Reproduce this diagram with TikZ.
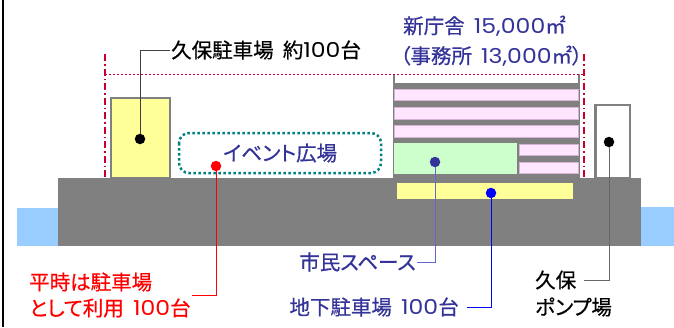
\documentclass[tikz,border=0pt]{standalone}
\usepackage{fontspec}
\setmainfont{Noto Sans CJK JP}[FakeBold=0.6, WordSpace=2, RawFeature=+palt]
\newfontfamily\cifras{Poppins}[FakeStretch=1.15]

\definecolor{azulosc}{RGB}{51,51,153}
\definecolor{azulmed}{RGB}{102,102,204}
\definecolor{rojoosc}{RGB}{200,0,50}
\definecolor{gris}{RGB}{128,128,128}
\definecolor{agua}{RGB}{153,204,255}
\definecolor{amarillo}{RGB}{255,255,153}
\definecolor{rosa}{RGB}{255,230,255}
\definecolor{rosaborde}{RGB}{215,180,215}
\definecolor{verde}{RGB}{204,255,204}
\definecolor{verdeazul}{RGB}{0,128,128}

\tikzset{
    punto/.style={circle, fill=#1, inner sep=0pt, minimum size=10.5pt},
    rotulo/.style={font=\fontsize{20.5}{26}\selectfont, inner sep=1pt},
    guia/.style={line width=0.8pt, color=#1},
    piso/.style={fill=rosa, draw=rosaborde, line width=0.8pt},
    limite/.style={rojoosc, line width=1.6pt, dash pattern=on 7pt off 3pt on 1.5pt off 3pt}
}

\begin{document}
\begin{tikzpicture}[x=1pt, y=-1pt]
    \useasboundingbox (0,0) rectangle (674,327);

    % Borde izquierdo
    \draw[line width=2pt] (2.5,0) -- (2.5,327);

    % Pintamos el agua y el terreno
    \fill[agua] (17,208) rectangle (58,246);
    \fill[agua] (641,207) rectangle (674,246);
    \fill[gris] (58,178) rectangle (641,246);

    % Limites de altura
    \draw[limite] (105,54) -- (105,178);
    \draw[limite] (584,54) -- (584,178);

    % Estacionamiento de Kubo y estacion de bombeo
    \draw[gris, line width=2pt, fill=amarillo] (111,98) rectangle (170,178);
    \draw[gris, line width=2.5pt, fill=white] (595.5,105) rectangle (630,178);

    % Edificio nuevo
    \fill[gris] (393,74) rectangle (580,178);
    \fill[white] (395,74) rectangle (578,83);
    \foreach \y in {89,107.5,125.5}
        \draw[piso] (394.5,\y) rectangle (578,\y+11.5);
    \draw[piso] (519,144) rectangle (578,155);
    \draw[piso] (519,162) rectangle (578,173);
    \fill[verde] (394,143) rectangle (517,174);
    \draw[rojoosc, line width=0.7pt, dash pattern=on 2pt off 2pt] (105,74) -- (584,74);

    % Estacionamiento subterraneo
    \fill[amarillo] (397,183) rectangle (573,199);

    % Plaza de eventos
    \draw[verdeazul, line width=2.5pt, dash pattern=on 2.5pt off 2.5pt, rounded corners=10pt]
        (179,133) rectangle (381,173);
    \node[rotulo, text=azulosc, anchor=west] (plaza) at (222,153) {イベント広場};

    % Puntos
    \node[punto=black] (pkubo) at (140,139) {};
    \node[punto=red] (pplaza) at (216,166) {};
    \node[punto=azulosc] (pcivico) at (435,162) {};
    \node[punto=blue] (psub) at (491,193) {};
    \node[punto=black] (pbomba) at (609,142) {};

    % Rotulos
    \node[rotulo, anchor=west] (kubo) at (170,50) {久保駐車場 約{\cifras 100}台};
    \node[rotulo, text=azulosc, anchor=west] (sede) at (402,26) {新庁舎 {\cifras 15,000}㎡};
    \node[rotulo, text=azulosc, anchor=west] (oficina) at (399,56) {（事務所 {\cifras 13,000}㎡）};
    \node[rotulo, text=red, anchor=west, align=left] (estac) at (28,295) {平時は駐車場\\として利用 {\cifras 100}台};
    \node[rotulo, text=azulosc, anchor=east] (civico) at (417,262) {市民スペース};
    \node[rotulo, text=azulosc, anchor=east, inner xsep=8pt] (sub) at (467,307) {地下駐車場 {\cifras 100}台};
    \node[rotulo, anchor=west, inner xsep=8pt] (kubob) at (527,280) {久保};
    \node[rotulo, anchor=west] (bomba) at (534,307) {ポンプ場};

    % Lineas guia
    \draw[guia={black!75}] (pkubo) |- (kubo.west);
    \draw[guia=red] (pplaza) |- (estac.east);
    \draw[guia=azulmed] (pcivico) |- (civico.east);
    \draw[guia=blue] (psub) |- (sub.east);
    \draw[guia={black!60}] (pbomba) |- (kubob.east);

\end{tikzpicture}
\end{document}
